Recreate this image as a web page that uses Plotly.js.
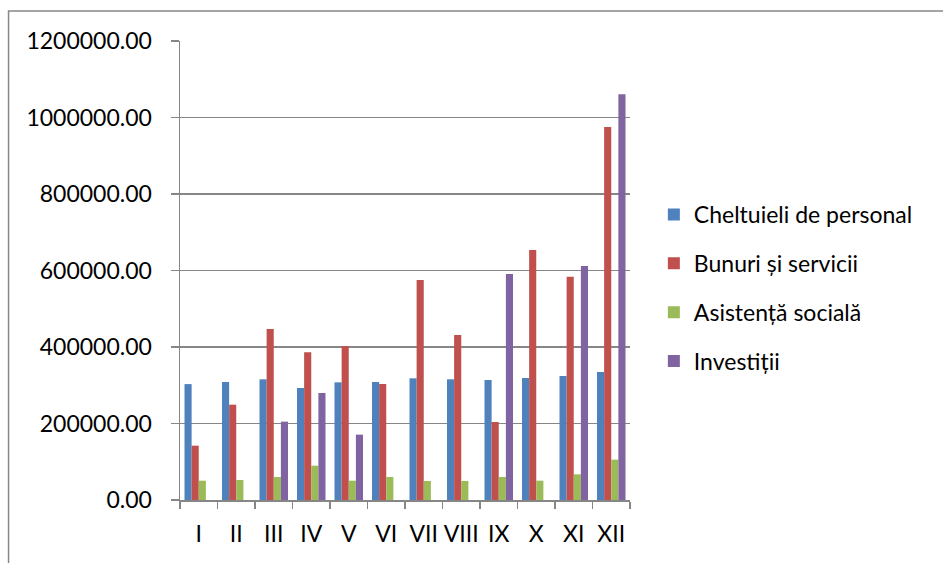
<!DOCTYPE html>
<html>
<head>
<meta charset="utf-8">
<script src="https://cdn.plot.ly/plotly-3.0.1.min.js"></script>
<style>html,body{margin:0;padding:0;background:#fff}#chart{width:943px;height:563px}</style>
</head>
<body>
<div id="chart"></div>
<script>
const months = ["I","II","III","IV","V","VI","VII","VIII","IX","X","XI","XII"];
const personal = [303000,308500,315500,292800,307600,308500,318100,315500,313700,319000,324200,334600];
const bunuri = [142000,249200,447000,386100,402600,303300,575200,431400,203900,653600,583800,975200];
const asistenta = [50500,52300,60100,89700,50500,60100,49700,49700,60100,50500,67100,105400];
const investitii = [null,null,204800,279700,170800,null,null,null,590800,null,611700,1060700];
const seriesNames = ["Cheltuieli de personal","Bunuri și servicii","Asistență socială","Investiții"];
const colors = ["#4F81BD","#C0504D","#9BBB59","#8064A2"];
const vals = [personal,bunuri,asistenta,investitii];

const traces = vals.map((v,i)=>({
  type:'bar', x:months, y:v, name:seriesNames[i], legendgroup:'g'+i,
  marker:{color:colors[i]}
}));

const fontFam = "Lato, 'Open Sans', sans-serif";
const layout = {
  width:943, height:563,
  margin:{l:180, r:313, t:41, b:63},
  paper_bgcolor:'#fff', plot_bgcolor:'#fff',
  barmode:'group', bargap:0.24, bargroupgap:0,
  font:{family:fontFam, size:23, color:'#000'},
  xaxis:{
    type:'category', showgrid:false, showline:true, linecolor:'#868686', linewidth:1.5,
    ticks:'outside', ticklen:7, tickcolor:'#868686', tickwidth:1.5, tickson:'boundaries',
    tickangle:0, ticklabelstandoff:13, tickfont:{size:23}
  },
  yaxis:{
    range:[0,1200000], dtick:200000, tick0:0, tickformat:'.2f',
    showgrid:true, gridcolor:'#868686', gridwidth:1.5,
    showline:true, linecolor:'#868686', linewidth:1.5,
    ticks:'outside', ticklen:8, tickcolor:'#868686', tickwidth:1.5,
    ticklabelstandoff:14, tickfont:{size:23}, zeroline:false
  },
  legend:{
    x:1.053, xanchor:'left', y:0.462, yanchor:'middle',
    traceorder:'grouped', tracegroupgap:16,
    font:{size:23, family:fontFam}, bgcolor:'rgba(0,0,0,0)'
  },
  shapes:[{
    type:'rect', xref:'paper', yref:'paper',
    x0:-0.381, x1:1.75, y0:-0.16, y1:1.0654,
    line:{color:'#888', width:1.5}, fillcolor:'rgba(0,0,0,0)', layer:'below'
  }]
};

Plotly.newPlot('chart', traces, layout, {displayModeBar:false, staticPlot:true});
</script>
</body>
</html>
